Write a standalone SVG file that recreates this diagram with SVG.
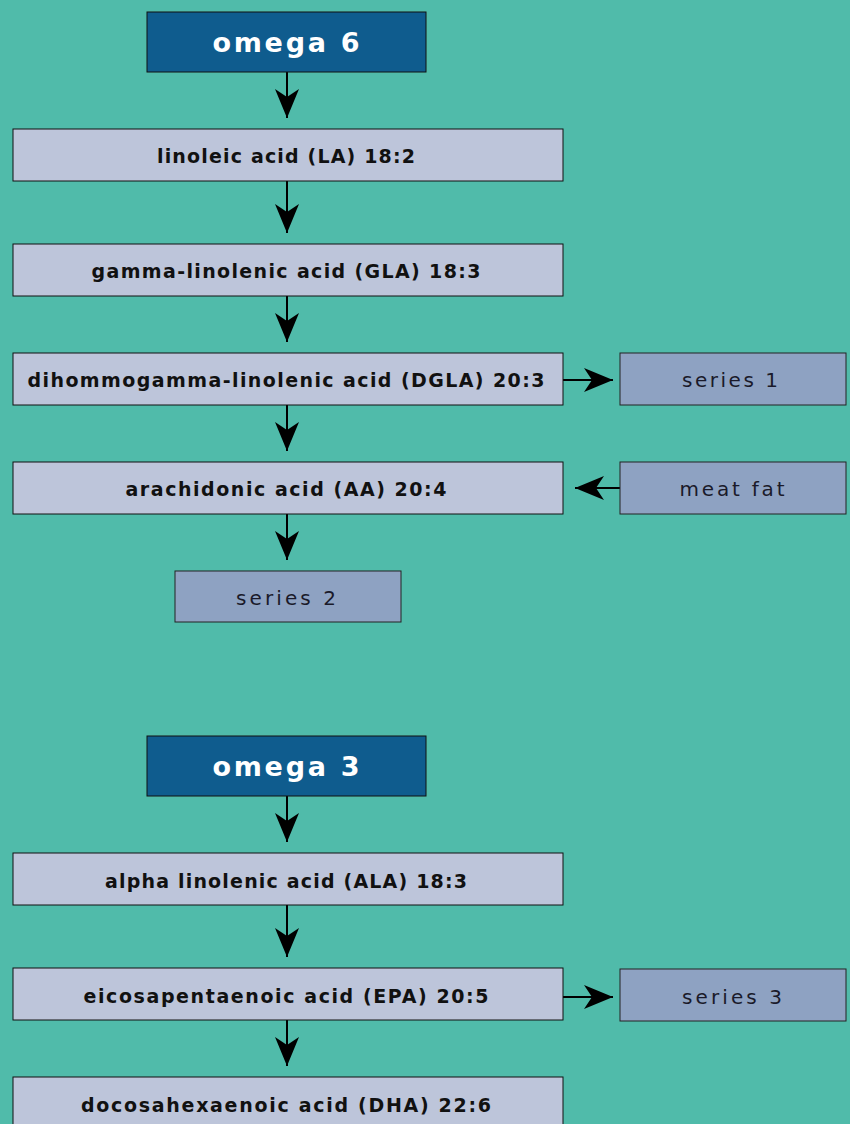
<svg xmlns="http://www.w3.org/2000/svg" width="850" height="1124" viewBox="0 0 850 1124">
<style>
.omega{fill:#0F5C8E;stroke:#111;stroke-width:1}
.main{fill:#BDC5DA;stroke:#111;stroke-width:1}
.side{fill:#8EA2C2;stroke:#222;stroke-width:1}
.t-omega{font-family:"DejaVu Sans","Liberation Sans",sans-serif;font-weight:bold;font-size:27px;fill:#ffffff;text-anchor:middle}
.t-main{font-family:"DejaVu Sans","Liberation Sans",sans-serif;font-weight:bold;font-size:19px;fill:#111111;text-anchor:middle}
.t-side{font-family:"DejaVu Sans","Liberation Sans",sans-serif;font-size:20px;fill:#1a1a2a;text-anchor:middle}
.conn{stroke:#000;stroke-width:2;fill:none;marker-end:url(#arr)}
</style>
<defs>
<marker id="arr" markerUnits="userSpaceOnUse" viewBox="-30 -13 31 26" refX="0" refY="0" markerWidth="31" markerHeight="26" orient="auto">
<path d="M0,0 L-29,-12 L-21,0 L-29,12 Z" fill="#000"/>
</marker>
</defs>
<rect width="850" height="1124" fill="#50BBAA"/>
<g id="connectors">
<line class="conn" x1="287" y1="72" x2="287" y2="118"/>
<line class="conn" x1="287" y1="181" x2="287" y2="233"/>
<line class="conn" x1="287" y1="296" x2="287" y2="342"/>
<line class="conn" x1="287" y1="405" x2="287" y2="451"/>
<line class="conn" x1="287" y1="514" x2="287" y2="560"/>
<line class="conn" x1="563" y1="380" x2="613" y2="380"/>
<line class="conn" x1="620" y1="488" x2="575" y2="488"/>
<line class="conn" x1="287" y1="796" x2="287" y2="842"/>
<line class="conn" x1="287" y1="905" x2="287" y2="957"/>
<line class="conn" x1="563" y1="997" x2="613" y2="997"/>
<line class="conn" x1="287" y1="1020" x2="287" y2="1066"/>
</g>
<g id="omega6"><rect class="omega" x="147" y="12" width="279" height="60"/><text class="t-omega" x="286" y="52" textLength="147" lengthAdjust="spacing">omega 6</text></g>
<g id="la"><rect class="main" x="13" y="129" width="550" height="52"/><text class="t-main" x="286" y="163" textLength="258" lengthAdjust="spacing">linoleic acid (LA) 18:2</text></g>
<g id="gla"><rect class="main" x="13" y="244" width="550" height="52"/><text class="t-main" x="286" y="278" textLength="389" lengthAdjust="spacing">gamma-linolenic acid (GLA) 18:3</text></g>
<g id="dgla"><rect class="main" x="13" y="353" width="550" height="52"/><text class="t-main" x="286" y="387" textLength="517" lengthAdjust="spacing">dihommogamma-linolenic acid (DGLA) 20:3</text></g>
<g id="series1"><rect class="side" x="620" y="353" width="226" height="52"/><text class="t-side" x="730" y="387" textLength="96" lengthAdjust="spacing">series 1</text></g>
<g id="aa"><rect class="main" x="13" y="462" width="550" height="52"/><text class="t-main" x="286" y="496" textLength="321" lengthAdjust="spacing">arachidonic acid (AA) 20:4</text></g>
<g id="meatfat"><rect class="side" x="620" y="462" width="226" height="52"/><text class="t-side" x="732" y="496" textLength="105" lengthAdjust="spacing">meat fat</text></g>
<g id="series2"><rect class="side" x="175" y="571" width="226" height="51"/><text class="t-side" x="286" y="605" textLength="100" lengthAdjust="spacing">series 2</text></g>
<g id="omega3"><rect class="omega" x="147" y="736" width="279" height="60"/><text class="t-omega" x="286" y="776" textLength="147" lengthAdjust="spacing">omega 3</text></g>
<g id="ala"><rect class="main" x="13" y="853" width="550" height="52"/><text class="t-main" x="286" y="888" textLength="362" lengthAdjust="spacing">alpha linolenic acid (ALA) 18:3</text></g>
<g id="epa"><rect class="main" x="13" y="968" width="550" height="52"/><text class="t-main" x="286" y="1003" textLength="405" lengthAdjust="spacing">eicosapentaenoic acid (EPA) 20:5</text></g>
<g id="series3"><rect class="side" x="620" y="969" width="226" height="52"/><text class="t-side" x="732" y="1004" textLength="100" lengthAdjust="spacing">series 3</text></g>
<g id="dha"><rect class="main" x="13" y="1077" width="550" height="56"/><text class="t-main" x="286" y="1112" textLength="410" lengthAdjust="spacing">docosahexaenoic acid (DHA) 22:6</text></g>
</svg>
